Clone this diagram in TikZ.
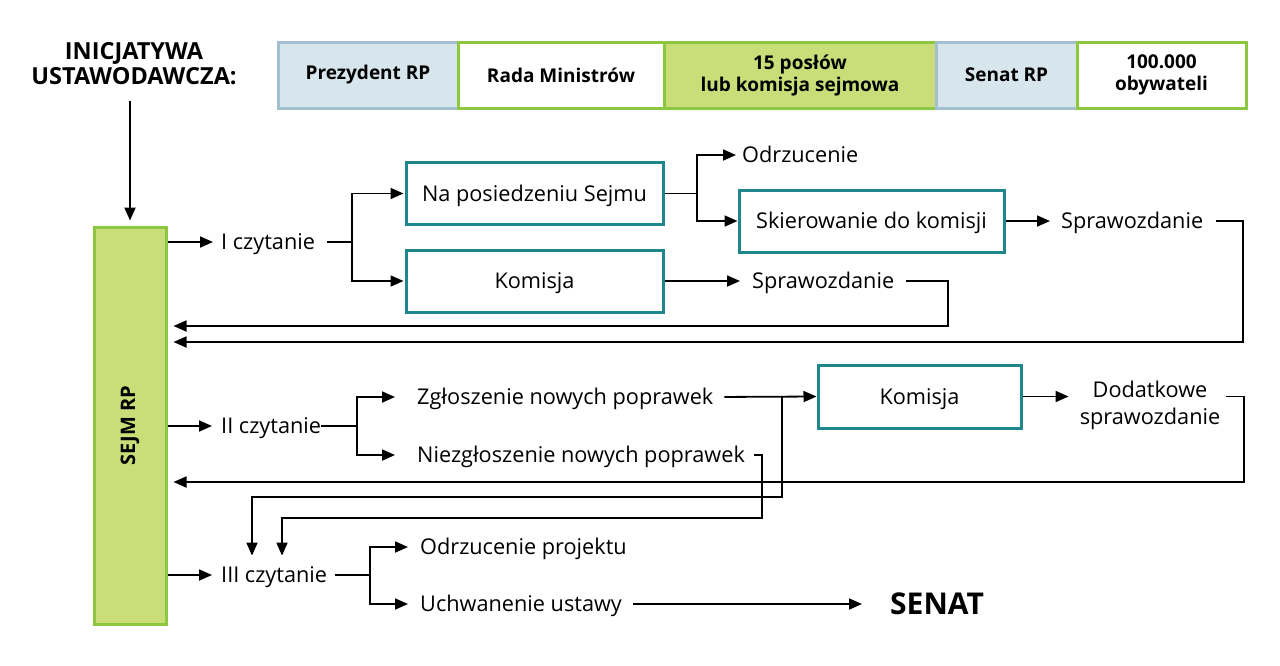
\documentclass[tikz,border=0pt]{standalone}
\usepackage{fontspec}
\setmainfont{Open Sans}
\usetikzlibrary{arrows.meta,positioning}
\definecolor{blfill}{RGB}{215,229,237}
\definecolor{blline}{RGB}{163,192,208}
\definecolor{grfill}{RGB}{201,221,120}
\definecolor{grline}{RGB}{141,198,63}
\definecolor{tealline}{RGB}{30,134,140}
\begin{document}
\begin{tikzpicture}[x=1pt,y=-1pt,
    every node/.style={font=\fontsize{21.7}{27}\selectfont},
    bar/.style={draw,line width=3pt,minimum height=66pt,inner sep=0pt,outer sep=0pt,align=center,
      font=\fontsize{19}{22}\selectfont\bfseries},
    tbox/.style={draw=tealline,line width=3pt,minimum height=62pt,inner sep=0pt,text height=15.5pt,text depth=0pt},
    txt/.style={inner sep=0pt,anchor=west,text height=15.5pt,text depth=0pt},
    ln/.style={line width=1.8pt},
    arr/.style={ln,-{Triangle[length=13pt,width=11pt]}}]
    \useasboundingbox (0,0) rectangle (1280,665);
    \node[font=\fontsize{23.5}{25}\selectfont\bfseries,align=center] (inic) at (134,64) {INICJATYWA\\USTAWODAWCZA:};
    \node[bar,draw=blline,fill=blfill,minimum width=180pt] (prez) at (368,75) {Prezydent RP};
    \node[bar,draw=grline,fill=white,minimum width=206pt,right=0pt of prez] (rada) {Rada Ministrów};
    \node[bar,draw=grline,fill=grfill,minimum width=272pt,right=0pt of rada] (posl) {15 posłów\\lub komisja sejmowa};
    \node[bar,draw=blline,fill=blfill,minimum width=141pt,right=0pt of posl] (senrp) {Senat RP};
    \node[bar,draw=grline,fill=white,minimum width=169pt,right=0pt of senrp] (obyw) {100.000\\obywateli};
    \node[draw=grline,fill=grfill,line width=3pt,minimum width=72pt,minimum height=397pt,inner sep=0pt,
      label={[rotate=90,font=\fontsize{20}{22}\selectfont\bfseries]center:SEJM RP}] (sejm) at (130,425.5) {};
    \draw[arr,shorten <=12pt,shorten >=5pt] (inic.south -| sejm.north) -- (sejm.north);
    % I czytanie
    \node[txt] (icz) at (221,242) {I czytanie};
    \node[tbox,minimum width=257pt] (posiedz) at (534.5,193.5) {Na posiedzeniu Sejmu};
    \node[tbox,minimum width=257pt] (kom1) at (534.5,281) {Komisja};
    \node[txt] (odrz) at (742,155) {Odrzucenie};
    \node[tbox,minimum width=265pt] (skier) at (871.5,221) {Skierowanie do komisji};
    \node[txt] (spr1) at (1061,221) {Sprawozdanie};
    \node[txt] (spr2) at (752,281) {Sprawozdanie};
    \coordinate (b1) at (352,242);
    \coordinate (b2) at (697,193.5);
    \coordinate (r1) at (1243,342);
    \coordinate (r2) at (948,326);
    \draw[arr,shorten >=8pt] (sejm.east |- icz.west) -- (icz.west);
    \draw[ln,shorten <=12pt] (icz.east) -- (b1);
    \draw[arr,shorten >=1pt] (b1) |- (posiedz.west);
    \draw[arr,shorten >=1pt] (b1) |- (kom1.west);
    \draw[ln] (posiedz.east) -- (b2);
    \draw[arr,shorten >=6pt] (b2) |- (odrz.west);
    \draw[arr] (b2) |- (skier.west);
    \draw[arr,shorten >=11pt] (skier.east) -- (spr1.west);
    \draw[arr,shorten >=12pt] (kom1.east) -- (spr2.west);
    \draw[arr,shorten <=13pt,shorten >=6pt] (spr1.east) -| (r1) -- (sejm.east |- r1);
    \draw[arr,shorten <=12pt,shorten >=6pt] (spr2.east) -| (r2) -- (sejm.east |- r2);
    % II czytanie
    \node[txt] (iicz) at (221,426) {II czytanie};
    \node[txt] (zgl) at (417,397) {Zgłoszenie nowych poprawek};
    \node[txt] (niezgl) at (417,455) {Niezgłoszenie nowych poprawek};
    \node[tbox,minimum width=203pt,minimum height=63pt] (kom2) at (919.5,396.5) {Komisja};
    \node[align=center,inner sep=0pt] (dod) at (1150,405) {Dodatkowe\\sprawozdanie};
    \coordinate (b3) at (357,426);
    \coordinate (b4) at (782,397);
    \coordinate (d1) at (252,497);
    \coordinate (d2) at (282,518);
    \coordinate (r3) at (1244,482);
    \draw[arr,shorten >=9pt] (sejm.east |- iicz.west) -- (iicz.west);
    \draw[ln] (iicz.east) -- (b3);
    \draw[arr,shorten >=22pt] (b3) |- (zgl.west);
    \draw[arr,shorten >=22pt] (b3) |- (niezgl.west);
    \draw[arr,shorten <=11pt] (zgl.east) -- (kom2.west);
    \draw[arr,shorten >=11pt] (kom2.east) -- (kom2.east -| dod.west);
    \draw[arr,shorten <=6pt,shorten >=6pt] (dod.east |- kom2.east) -| (r3) -- (sejm.east |- r3);
    % III czytanie
    \node[txt] (iiicz) at (221,575) {III czytanie};
    \node[txt] (odrzp) at (420,547) {Odrzucenie projektu};
    \node[txt] (uchw) at (420,604) {Uchwanenie ustawy};
    \node[txt,font=\fontsize{30}{34}\selectfont\bfseries,text height=21pt] (senat) at (890,604) {SENAT};
    \coordinate (b5) at (370,575);
    \draw[arr,shorten >=11.5pt] (b4) |- (d1) -- (d1 |- iiicz.north);
    \draw[arr,shorten <=9pt,shorten >=11.5pt] (niezgl.east) -| (762,518) -- (d2) -- (d2 |- iiicz.north);
    \draw[arr,shorten >=9pt] (sejm.east |- iiicz.west) -- (iiicz.west);
    \draw[ln,shorten <=8pt] (iiicz.east) -- (b5);
    \draw[arr,shorten >=12pt] (b5) |- (odrzp.west);
    \draw[arr,shorten >=12pt] (b5) |- (uchw.west);
    \draw[arr,shorten <=11pt,shorten >=28pt] (uchw.east) -- (senat.west);
\end{tikzpicture}
\end{document}
